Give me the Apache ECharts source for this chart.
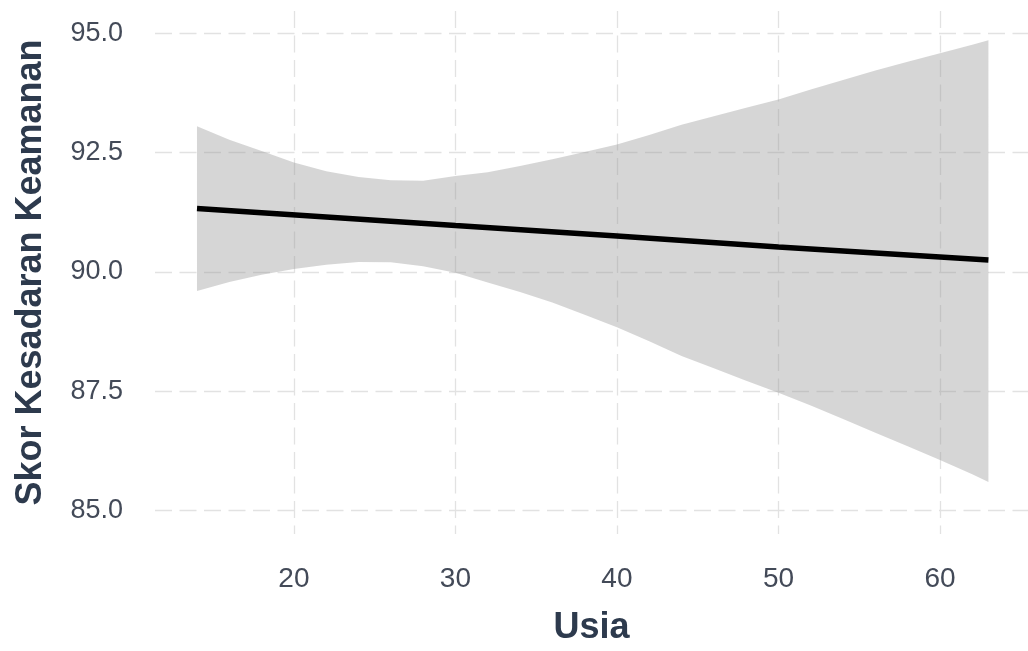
<!DOCTYPE html>
<html>
<head>
<meta charset="utf-8">
<script src="https://cdn.jsdelivr.net/npm/echarts@6/dist/echarts.min.js"></script>
<style>
html,body{margin:0;padding:0;background:#fff;}
#chart{width:1028px;height:651px;}
</style>
</head>
<body>
<div id="chart"></div>
<script>
// ---- data ----
const bandAge   = [14, 16, 18, 20, 22, 24, 26, 28, 30, 32, 34, 36, 38, 40, 42, 44, 46, 48, 50, 52, 54, 56, 58, 60, 62, 63];
const bandUpper = [93.05, 92.77, 92.53, 92.29, 92.11, 91.99, 91.92, 91.91, 92.01, 92.09, 92.22, 92.36, 92.51, 92.67, 92.87, 93.08, 93.26, 93.44, 93.61, 93.82, 94.02, 94.22, 94.40, 94.58, 94.76, 94.85];
const bandLower = [89.60, 89.79, 89.94, 90.06, 90.15, 90.21, 90.20, 90.12, 89.98, 89.78, 89.58, 89.36, 89.10, 88.84, 88.55, 88.24, 87.98, 87.72, 87.47, 87.20, 86.92, 86.63, 86.35, 86.06, 85.76, 85.60];
const lineAge   = [14, 30, 40, 50, 63];
const lineScore = [91.33, 90.97, 90.75, 90.52, 90.25];
const xTicks = [20, 30, 40, 50, 60];
const yTicks = [85, 87.5, 90, 92.5, 95];

const bandData = bandAge.map((a, i) => [a, bandLower[i], bandUpper[i]]);
const linePts  = lineAge.map((a, i) => [a, lineScore[i]]);

const FONT = '"Liberation Sans", Arial, sans-serif';
const tickColor = '#434a58';
const titleColor = '#2d3a4d';
const gridLine = { show: true, lineStyle: { color: '#e2e2e2', width: 1.3, type: [17, 7.5] } };

const chart = echarts.init(document.getElementById('chart'), null, { renderer: 'canvas' });
chart.setOption({
  animation: false,
  backgroundColor: '#ffffff',
  grid: { left: 155, right: 0, top: 11, bottom: 115, containLabel: false },
  xAxis: {
    type: 'value',
    min: 11.4, max: 65.45,
    name: 'Usia',
    nameLocation: 'middle',
    nameGap: 76,
    nameTextStyle: { fontFamily: FONT, fontSize: 36, fontWeight: 'bold', color: titleColor },
    axisLine: { show: false },
    axisTick: { show: false, customValues: xTicks },
    axisLabel: { customValues: xTicks, margin: 31, fontFamily: FONT, fontSize: 28, color: tickColor },
    splitLine: gridLine
  },
  yAxis: {
    type: 'value',
    min: 84.51, max: 95.465,
    name: 'Skor Kesadaran Keamanan',
    nameLocation: 'middle',
    nameGap: 106,
    nameTextStyle: { fontFamily: FONT, fontSize: 36, fontWeight: 'bold', color: titleColor },
    axisLine: { show: false },
    axisTick: { show: false, customValues: yTicks },
    axisLabel: { customValues: yTicks, margin: 32, fontFamily: FONT, fontSize: 27, color: tickColor,
      formatter: v => v.toFixed(1) },
    splitLine: gridLine
  },
  series: [
    {
      name: 'band', type: 'custom', silent: true,
      data: bandData,
      encode: { x: 0, y: [1, 2] },
      renderItem: function (params, api) {
        if (params.dataIndex !== 0) return null;
        const upper = bandData.map(d => api.coord([d[0], d[2]]));
        const lower = bandData.slice().reverse().map(d => api.coord([d[0], d[1]]));
        return {
          type: 'polygon',
          shape: { points: upper.concat(lower) },
          style: { fill: 'rgba(153,153,153,0.4)', stroke: null }
        };
      }
    },
    {
      name: 'fit', type: 'line', data: linePts,
      symbol: 'none', silent: true,
      lineStyle: { color: '#000000', width: 5.5 }
    }
  ]
});
</script>
</body>
</html>
